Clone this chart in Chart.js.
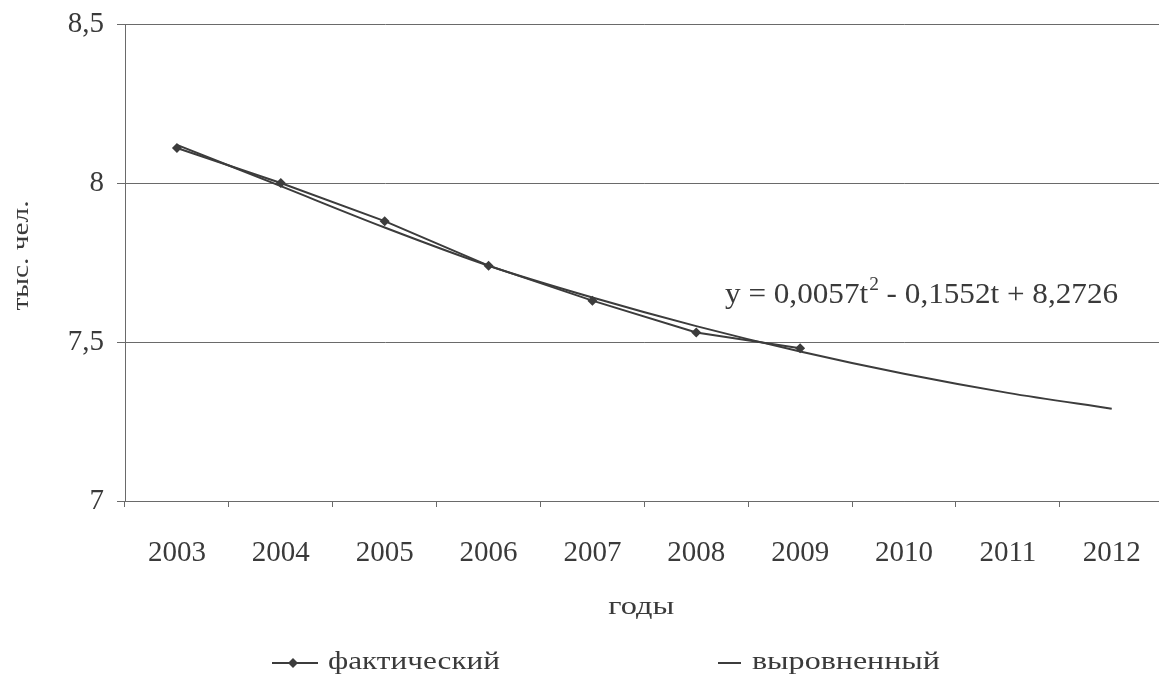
<!DOCTYPE html>
<html lang="ru">
<head>
<meta charset="utf-8">
<title>Численность, тыс. чел.</title>
<script src="https://cdn.jsdelivr.net/npm/chart.js@4.4.1/dist/chart.umd.min.js"></script>
<style>
  html, body { margin: 0; padding: 0; background: #ffffff; overflow: hidden; }
  #wrap { width: 1159px; height: 685px; overflow: hidden; }
  canvas { display: block; }
</style>
</head>
<body>
<div id="wrap"><canvas id="chart" width="1170" height="685"></canvas></div>
<script>
// Годы наблюдения
const years = ['2003', '2004', '2005', '2006', '2007', '2008', '2009', '2010', '2011', '2012'];
// Фактические значения, тыс. чел. (2003–2009)
const actual = [8.11, 8.00, 7.88, 7.74, 7.63, 7.53, 7.48];
// Выровненный ряд по тренду y = 0,0057t² - 0,1552t + 8,2726 (2003–2012)
const fitted = [8.12, 7.99, 7.86, 7.74, 7.64, 7.55, 7.47, 7.40, 7.34, 7.29];
// Подписи делений оси значений
const yTickValues = [7, 7.5, 8, 8.5];
const yTickLabels = ['7', '7,5', '8', '8,5'];
const seriesNames = ['фактический', 'выровненный'];
const trendText = ['y = 0,0057t', '2', ' - 0,1552t + 8,2726'];
const axisTitles = { x: 'годы', y: 'тыс. чел.' };

const FONT = '"Liberation Serif", "Times New Roman", serif';
const TEXT = '#3a3a3a';
const GRID = '#6a6a6a';
const LINE = '#3c3c3c';

// Текст, растянутый по горизонтали до заданной ширины
function stretchText(ctx, text, x, y, width) {
  const w = ctx.measureText(text).width;
  const k = width / w;
  ctx.save();
  ctx.translate(x, y);
  ctx.scale(k, 1);
  ctx.fillText(text, 0, 0);
  ctx.restore();
}

// Подписи осей, уравнение тренда и легенда рисуются поверх графика
const overlay = {
  id: 'overlay',
  afterDraw(chart) {
    const ctx = chart.ctx;
    const area = chart.chartArea;
    ctx.save();
    ctx.fillStyle = TEXT;
    ctx.textBaseline = 'alphabetic';
    ctx.textAlign = 'left';

    // уравнение тренда
    const k = 1.075;
    let x = area.left + 600;
    const y = area.top + 279;
    ctx.font = '29px ' + FONT;
    let w = ctx.measureText(trendText[0]).width * k;
    stretchText(ctx, trendText[0], x, y, w);
    x += w + 1;
    ctx.font = '18px ' + FONT;
    w = ctx.measureText(trendText[1]).width * k;
    stretchText(ctx, trendText[1], x, y - 13, w);
    x += w;
    ctx.font = '29px ' + FONT;
    w = ctx.measureText(trendText[2]).width * k;
    stretchText(ctx, trendText[2], x, y, w);

    // подпись оси X
    ctx.textBaseline = 'middle';
    ctx.font = '26px ' + FONT;
    stretchText(ctx, axisTitles.x, (area.left + area.right) / 2 - 36, 607, 66);

    // подпись оси Y
    ctx.save();
    ctx.translate(22, (area.top + area.bottom) / 2 - 7);
    ctx.rotate(-Math.PI / 2);
    ctx.font = '24px ' + FONT;
    stretchText(ctx, axisTitles.y, -55, 0, 110);
    ctx.restore();

    // легенда
    const ly = 663;
    ctx.strokeStyle = LINE;
    ctx.lineWidth = 2;
    ctx.beginPath();
    ctx.moveTo(272, ly);
    ctx.lineTo(318, ly);
    ctx.stroke();
    ctx.fillStyle = LINE;
    ctx.beginPath();
    ctx.moveTo(293, ly - 5);
    ctx.lineTo(298, ly);
    ctx.lineTo(293, ly + 5);
    ctx.lineTo(288, ly);
    ctx.closePath();
    ctx.fill();

    ctx.beginPath();
    ctx.moveTo(718, ly);
    ctx.lineTo(741, ly);
    ctx.stroke();

    ctx.fillStyle = TEXT;
    ctx.textBaseline = 'alphabetic';
    ctx.font = '26px ' + FONT;
    stretchText(ctx, seriesNames[0], 328, 669, 172);
    stretchText(ctx, seriesNames[1], 752, 669, 188);
    ctx.restore();
  }
};

new Chart(document.getElementById('chart'), {
  type: 'line',
  data: {
    labels: years,
    datasets: [
      {
        label: seriesNames[0],
        data: actual,
        borderColor: LINE,
        backgroundColor: LINE,
        borderWidth: 2,
        pointStyle: 'rectRot',
        pointRadius: 5,
        pointBorderWidth: 0,
        tension: 0,
        order: 1
      },
      {
        label: seriesNames[1],
        data: fitted,
        borderColor: LINE,
        borderWidth: 2,
        pointRadius: 0,
        cubicInterpolationMode: 'monotone',
        order: 2
      }
    ]
  },
  options: {
    responsive: false,
    animation: false,
    devicePixelRatio: 1,
    layout: { padding: { top: 24, right: 5, left: 0, bottom: 62 } },
    plugins: {
      legend: { display: false },
      tooltip: { enabled: false }
    },
    scales: {
      x: {
        type: 'category',
        offset: true,
        afterFit(scale) { scale.height = 122; },
        grid: {
          offset: true,
          drawOnChartArea: false,
          drawTicks: true,
          tickLength: 6,
          color: GRID,
          lineWidth: 1
        },
        border: { display: true, color: GRID, width: 1 },
        ticks: {
          color: TEXT,
          font: { family: FONT, size: 29 },
          padding: 29,
          maxRotation: 0,
          autoSkip: false
        }
      },
      y: {
        min: 7,
        max: 8.5,
        afterFit(scale) {
          scale.width = 125;
          scale.paddingTop = 0;
          scale.paddingBottom = 0;
        },
        afterBuildTicks(scale) {
          scale.ticks = yTickValues.map(v => ({ value: v }));
        },
        grid: {
          drawOnChartArea: true,
          drawTicks: true,
          tickLength: 8,
          color: GRID,
          lineWidth: 1
        },
        border: { display: true, color: GRID, width: 1 },
        ticks: {
          color: TEXT,
          font: { family: FONT, size: 29 },
          padding: 13,
          callback(value) {
            const i = yTickValues.indexOf(value);
            return i >= 0 ? yTickLabels[i] : '';
          }
        }
      }
    }
  },
  plugins: [overlay]
});
</script>
</body>
</html>
